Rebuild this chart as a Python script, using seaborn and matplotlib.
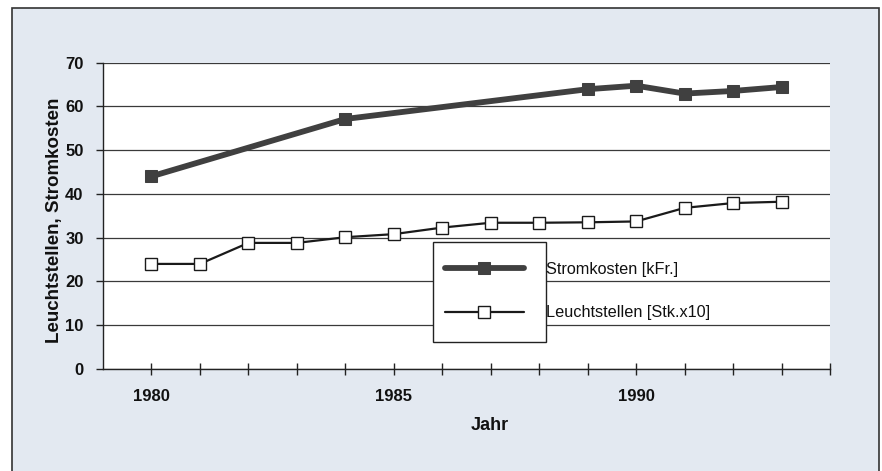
import matplotlib
matplotlib.use("Agg")
import matplotlib.pyplot as plt
import seaborn as sns
import pandas as pd
from matplotlib.patches import Rectangle

# Daten
jahre_strom = [1980, 1984, 1989, 1990, 1991, 1992, 1993]
stromkosten = [44.0, 57.1, 63.9, 64.7, 62.9, 63.5, 64.4]

jahre_leucht = list(range(1980, 1994))
leuchtstellen = [24.0, 24.0, 28.8, 28.8, 30.1, 30.8, 32.3, 33.4, 33.4, 33.5, 33.7, 36.8, 37.9, 38.2]

label_strom = "Stromkosten [kFr.]"
label_leucht = "Leuchtstellen [Stk.x10]"
x_label = "Jahr"
y_label = "Leuchtstellen, Stromkosten"
x_beschriftet = [1980, 1985, 1990]

sns.set_theme(style="white")
plt.rcParams["font.family"] = ["Liberation Sans", "DejaVu Sans"]

df_strom = pd.DataFrame({"Jahr": jahre_strom, "Wert": stromkosten})
df_leucht = pd.DataFrame({"Jahr": jahre_leucht, "Wert": leuchtstellen})

fig = plt.figure(figsize=(8.82, 4.71), dpi=100)
fig.patch.set_facecolor("white")

# Hintergrund mit Rahmen (wie im Scan)
hintergrund = Rectangle((12 / 882, -0.05), (879 - 12) / 882, 1.05 - 8 / 471,
                        transform=fig.transFigure, facecolor="#e3e9f1",
                        edgecolor="#333333", linewidth=1.2, zorder=-5)
fig.patches.append(hintergrund)

ax = fig.add_axes([103 / 882, 1 - 369 / 471, (830 - 103) / 882, (369 - 62.5) / 471])
ax.set_facecolor("white")

sns.lineplot(data=df_strom, x="Jahr", y="Wert", ax=ax, color="#404040",
             linewidth=4.2, marker="s", markersize=8, markeredgecolor="#404040",
             label=label_strom, zorder=4)
sns.lineplot(data=df_leucht, x="Jahr", y="Wert", ax=ax, color="#1a1a1a",
             linewidth=1.6, marker="s", markersize=9, markerfacecolor="white",
             markeredgecolor="#1a1a1a", markeredgewidth=1.0,
             label=label_leucht, zorder=5)

ax.set_xlim(1979, 1994)
ax.set_ylim(0, 70)
ax.set_yticks(range(0, 71, 10))
ax.set_xticks(range(1980, 1995))
ax.set_xticklabels([str(j) if j in x_beschriftet else "" for j in range(1980, 1995)])

ax.yaxis.grid(True, color="#3a3a3a", linewidth=0.9)
ax.set_axisbelow(True)
for s in ["top", "right"]:
    ax.spines[s].set_visible(False)
for s in ["left", "bottom"]:
    ax.spines[s].set_color("#222222")
    ax.spines[s].set_linewidth(1.0)

ax.tick_params(axis="x", direction="inout", length=9, width=1, color="#222222",
               pad=10, labelsize=12, labelcolor="#111111", bottom=True)
ax.tick_params(axis="y", direction="out", length=5, width=1, color="#222222",
               pad=9, labelsize=12, labelcolor="#111111", left=True)
for t in ax.get_xticklabels() + ax.get_yticklabels():
    t.set_fontweight("semibold")

ax.set_xlabel(x_label, fontsize=13, fontweight="bold", color="#111111")
ax.set_ylabel(y_label, fontsize=13.5, fontweight="bold", color="#111111")
ax.xaxis.set_label_coords((490 - 103) / 727, (369 - 417) / 306.5)
ax.yaxis.set_label_coords((63 - 103) / 727, (369 - 220) / 306.5)

leg = ax.legend(loc="upper left", bbox_to_anchor=(445 / 882, 1 - 262 / 471),
                bbox_transform=fig.transFigure, frameon=False, fontsize=11.7,
                handlelength=4.86, handletextpad=1.35, labelspacing=1.75,
                borderpad=0, borderaxespad=0)
leg.set_zorder(7)
for t in leg.get_texts():
    t.set_color("#111111")

# Legendenrahmen nur um die Symbole, Text liegt daneben
kasten = Rectangle((433 / 882, 1 - 342 / 471), 113 / 882, 100 / 471,
                   transform=fig.transFigure, facecolor="white",
                   edgecolor="#222222", linewidth=1.0, zorder=6)
ax.add_artist(kasten)
kasten.set_clip_on(False)

fig.savefig("out.png", dpi=100)
